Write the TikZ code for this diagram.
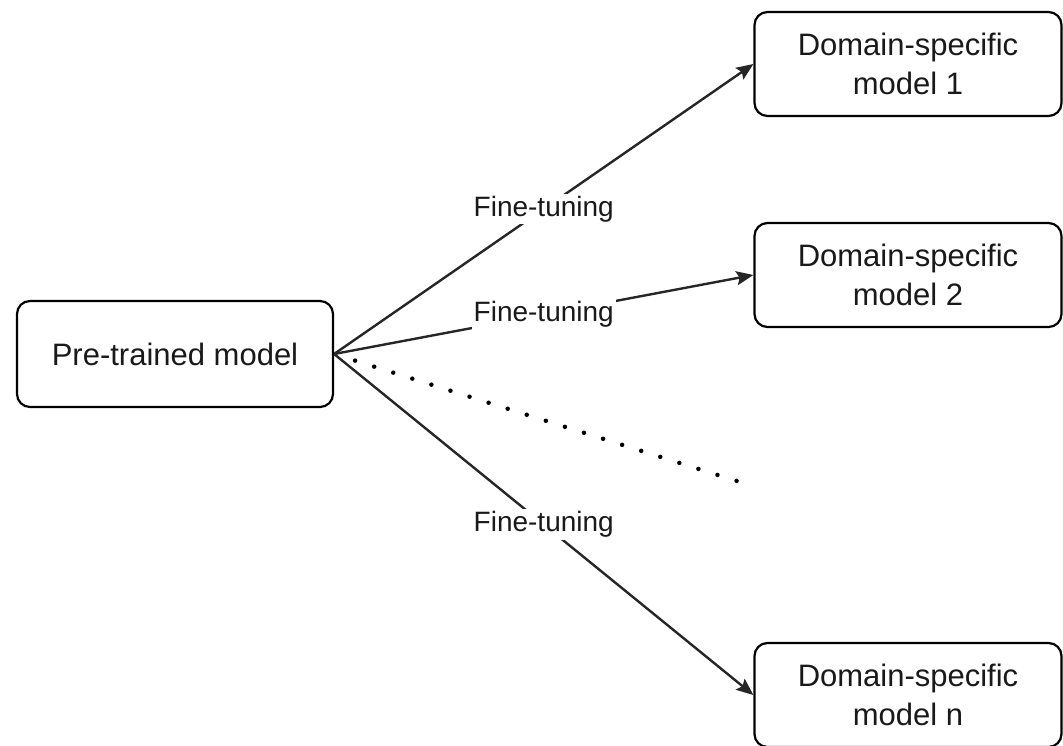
\documentclass[tikz,border=0pt]{standalone}
\usepackage{fontspec}
\setmainfont{Liberation Sans}
\usetikzlibrary{arrows.meta,calc}
\begin{document}
\begin{tikzpicture}[x=1pt,y=-1pt,
  model/.style={draw=black, line width=2.2pt, rounded corners=13pt, align=center,
    font=\fontsize{31}{39}\selectfont, text=black!90, inner sep=0pt},
  dsmodel/.style={model, minimum width=307pt, minimum height=104pt},
  tune/.style={draw=black!85, line width=2.4pt,
    -{Stealth[length=17pt,width=14pt,inset=3pt]}},
  lbl/.style={fill=white, font=\fontsize{28}{34}\selectfont, text=black!90, inner sep=2pt},
  more/.style={draw=black, line width=4.5pt, line cap=round, dash pattern=on 0pt off 20pt},
]
\useasboundingbox (0,0) rectangle (1063,746);

% source model
\node[model, minimum width=316pt, minimum height=106pt] (pre) at (175,354) {Pre-trained model};

% fine-tuned models
\node[dsmodel] (ds1) at (908,64)  {Domain-specific\\model 1};
\node[dsmodel] (ds2) at (908,275) {Domain-specific\\model 2};
\node[dsmodel] (dsn) at (908,695) {Domain-specific\\model n};

% fine-tuning connectors
\draw[tune] (pre.east) -- node[lbl] {Fine-tuning} (ds1.west);
\draw[tune] (pre.east) -- node[lbl] {Fine-tuning} (ds2.west);
\draw[tune] (pre.east) -- node[lbl] {Fine-tuning} (dsn.west);

% elided models in between
\coordinate (dotend) at (740,482);
\draw[more] ($(pre.east)!22pt!(dotend)$) -- (dotend);
\end{tikzpicture}
\end{document}
